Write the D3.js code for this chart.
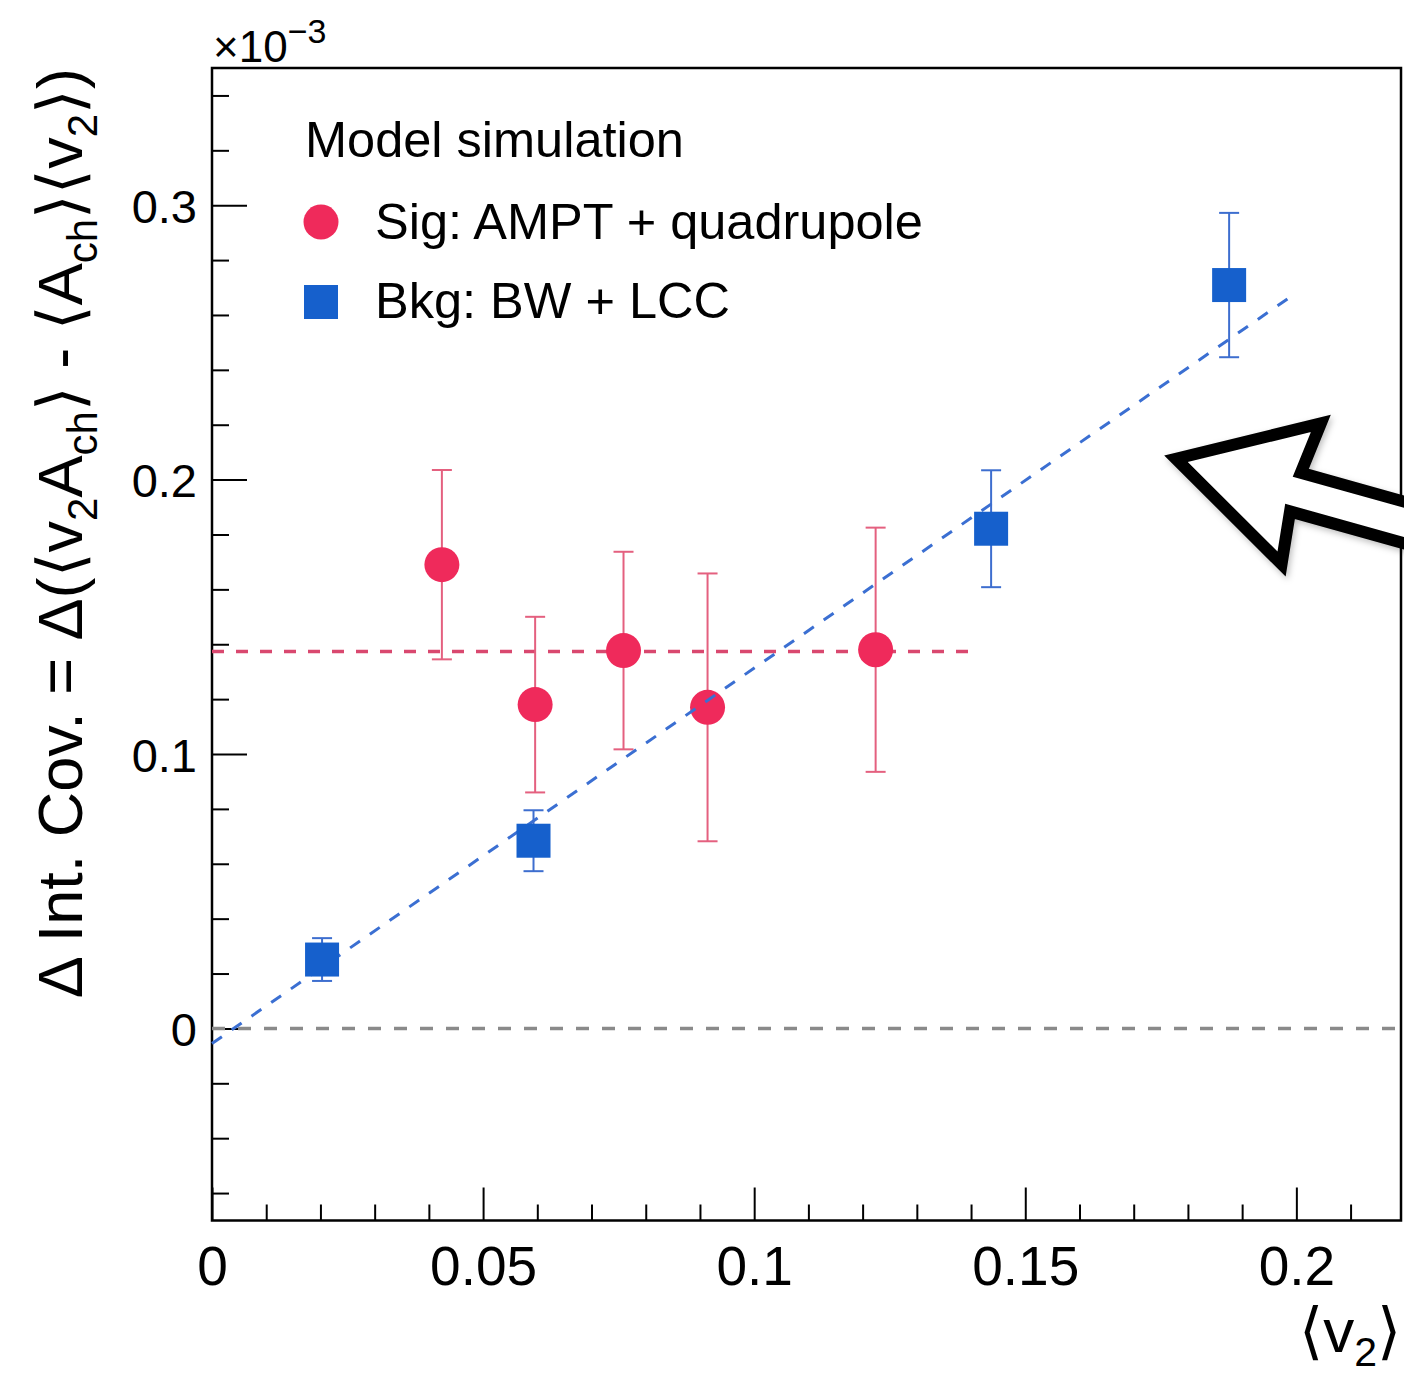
<!DOCTYPE html>
<html>
<head>
<meta charset="utf-8">
<script src="https://cdn.jsdelivr.net/npm/d3@7"></script>
<style>
  html, body { margin: 0; padding: 0; background: #ffffff; }
  svg { display: block; }
  text { font-family: "Liberation Sans", Arial, Helvetica, sans-serif; fill: #000; }
</style>
</head>
<body>
<svg id="chart" width="1404" height="1381"></svg>
<script>
// Signal: AMPT + quadrupole (values in units of 1e-3)
const sigV2  = [0.0424, 0.0596, 0.0759, 0.0914, 0.1224];
const sigCov = [0.169, 0.118, 0.1377, 0.117, 0.138];
const sigErr = [0.0345, 0.032, 0.036, 0.0488, 0.0445];

// Background: blast wave + local charge conservation
const bkgV2  = [0.0203, 0.0593, 0.1437, 0.1876];
const bkgCov = [0.0251, 0.0684, 0.1821, 0.2709];
const bkgErr = [0.0078, 0.0111, 0.0213, 0.0263];

// Fits: constant for signal, straight line for background
const sigFitLevel = 0.1374;
const sigFitRange = [0, 0.14];
const bkgFitIntercept = -0.0055;
const bkgFitSlope = 1.368;
const bkgFitRange = [0, 0.2];

// Axis ranges and tick values
const xDomain = [0, 0.2193];
const yDomain = [-0.07, 0.35];
const xMajorTicks = [0, 0.05, 0.1, 0.15, 0.2];
const xTickLabels = ["0", "0.05", "0.1", "0.15", "0.2"];
const yMajorTicks = [0, 0.1, 0.2, 0.3];
const yTickLabels = ["0", "0.1", "0.2", "0.3"];

const svg = d3.select("#chart");
const L = 212, R = 1401, T = 68, B = 1220.5;

const x = d3.scaleLinear().domain(xDomain).range([L, R]);
const y = d3.scaleLinear().domain(yDomain).range([B, T]);

const RED = "#ef2a5b", RED_ERR = "#e4607f", RED_LINE = "#d9486f";
const BLUE = "#1660cc", BLUE_ERR = "#3d6ecf", BLUE_LINE = "#3b6fd2";

// minor ticks
const xMinor = d3.range(0, 0.2193, 0.01).filter(v => !xMajorTicks.some(m => Math.abs(m - v) < 1e-9));
const yMinor = d3.range(-0.06, 0.351, 0.02).filter(v => !yMajorTicks.some(m => Math.abs(m - v) < 1e-9));

const gxMinor = svg.append("g").attr("transform", `translate(0,${B})`)
  .call(d3.axisBottom(x).tickValues(xMinor).tickSizeInner(-16).tickSizeOuter(0).tickFormat(""));
const gx = svg.append("g").attr("transform", `translate(0,${B})`)
  .call(d3.axisBottom(x).tickValues(xMajorTicks).tickSizeInner(-33).tickSizeOuter(0).tickPadding(25)
    .tickFormat((d, i) => xTickLabels[i]));
const gyMinor = svg.append("g").attr("transform", `translate(${L},0)`)
  .call(d3.axisLeft(y).tickValues(yMinor).tickSizeInner(-17).tickSizeOuter(0).tickFormat(""));
const gy = svg.append("g").attr("transform", `translate(${L},0)`)
  .call(d3.axisLeft(y).tickValues(yMajorTicks).tickSizeInner(-35).tickSizeOuter(0).tickPadding(15)
    .tickFormat((d, i) => yTickLabels[i]));

[gxMinor, gx, gyMinor, gy].forEach(g => {
  g.select(".domain").remove();
  g.selectAll(".tick line").attr("stroke", "#000").attr("stroke-width", 2);
});
gx.selectAll(".tick text").attr("font-size", 55).attr("font-family", "Liberation Sans, Arial, sans-serif").attr("fill", "#000");
gy.selectAll(".tick text").attr("font-size", 47).attr("dy", "0.37em").attr("font-family", "Liberation Sans, Arial, sans-serif").attr("fill", "#000");

// frame
svg.append("rect").attr("x", L).attr("y", T).attr("width", R - L).attr("height", B - T)
  .attr("fill", "none").attr("stroke", "#000").attr("stroke-width", 2.5);

// zero reference
svg.append("line")
  .attr("x1", x(xDomain[0])).attr("x2", x(xDomain[1]))
  .attr("y1", y(0)).attr("y2", y(0))
  .attr("stroke", "#8a8a8a").attr("stroke-width", 3.5).attr("stroke-dasharray", "13,13");

// signal constant fit
svg.append("line")
  .attr("x1", x(sigFitRange[0])).attr("x2", x(sigFitRange[1]))
  .attr("y1", y(sigFitLevel)).attr("y2", y(sigFitLevel))
  .attr("stroke", RED_LINE).attr("stroke-width", 3.5).attr("stroke-dasharray", "12,12");

// error bars helper
function errorBars(xs, ys, es, color) {
  const g = svg.append("g").attr("stroke", color).attr("stroke-width", 2).attr("fill", "none");
  xs.forEach((xv, i) => {
    const px = x(xv), top = y(ys[i] + es[i]), bot = y(ys[i] - es[i]);
    g.append("line").attr("x1", px).attr("x2", px).attr("y1", top).attr("y2", bot);
    g.append("line").attr("x1", px - 10).attr("x2", px + 10).attr("y1", top).attr("y2", top);
    g.append("line").attr("x1", px - 10).attr("x2", px + 10).attr("y1", bot).attr("y2", bot);
  });
}

errorBars(sigV2, sigCov, sigErr, RED_ERR);
svg.append("g").selectAll("circle").data(sigV2).join("circle")
  .attr("cx", d => x(d)).attr("cy", (d, i) => y(sigCov[i])).attr("r", 17.5).attr("fill", RED);

// background linear fit
const bkgLine = d3.line().x(d => x(d)).y(d => y(bkgFitIntercept + bkgFitSlope * d));
svg.append("path").attr("d", bkgLine(bkgFitRange))
  .attr("fill", "none").attr("stroke", BLUE_LINE).attr("stroke-width", 3).attr("stroke-dasharray", "12,12");

errorBars(bkgV2, bkgCov, bkgErr, BLUE_ERR);
const sq = 34;
svg.append("g").selectAll("rect").data(bkgV2).join("rect")
  .attr("x", d => x(d) - sq / 2).attr("y", (d, i) => y(bkgCov[i]) - sq / 2)
  .attr("width", sq).attr("height", sq).attr("fill", BLUE);

// legend
const lg = svg.append("g");
const lfs = 50.5;
lg.append("text").attr("x", 305).attr("y", 157).attr("font-size", lfs).text("Model simulation");
lg.append("circle").attr("cx", 321).attr("cy", 222).attr("r", 17.5).attr("fill", RED);
lg.append("text").attr("x", 375).attr("y", 239).attr("font-size", lfs).text("Sig: AMPT + quadrupole");
lg.append("rect").attr("x", 321 - sq / 2).attr("y", 302 - sq / 2).attr("width", sq).attr("height", sq).attr("fill", BLUE);
lg.append("text").attr("x", 375).attr("y", 318).attr("font-size", lfs).text("Bkg: BW + LCC");

// exponent label
const ex = svg.append("text").attr("x", 213).attr("y", 62).attr("font-size", 44);
ex.append("tspan").text("\u00d710");
ex.append("tspan").attr("font-size", 34).attr("dy", -19).text("\u22123");

// y title
const yt = svg.append("text").attr("transform", `translate(82,${T}) rotate(-90)`)
  .attr("text-anchor", "end").attr("font-size", 63);
function sub(t, txt) { t.append("tspan").attr("font-size", 42).attr("dy", 15).text(txt); }
function back(t, txt) { t.append("tspan").attr("dy", -15).text(txt); }
yt.append("tspan").text("\u0394 Int. Cov. = \u0394(\u27e8v");
sub(yt, "2"); back(yt, "A"); sub(yt, "ch");
back(yt, "\u27e9 - \u27e8A"); sub(yt, "ch");
back(yt, "\u27e9\u27e8v"); sub(yt, "2"); back(yt, "\u27e9)");

// x title
const xt = svg.append("text").attr("x", 1401).attr("y", 1352).attr("text-anchor", "end").attr("font-size", 62);
xt.append("tspan").text("\u27e8v");
xt.append("tspan").attr("font-size", 41).attr("dy", 14).text("2");
xt.append("tspan").attr("dy", -14).text("\u27e9");

// annotation arrow, anchored at a point in data coordinates
const tip = [x(0.1778), y(0.2076)];
const ang = 15.6 * Math.PI / 180;
const local = [[0, 0], [130, -73], [124, -20], [420, -20], [420, 20], [124, 20], [130, 73]];
const pts = local.map(([u, w]) => [
  tip[0] + u * Math.cos(ang) - w * Math.sin(ang),
  tip[1] + u * Math.sin(ang) + w * Math.cos(ang)
]);
const defs = svg.append("defs");
const f = defs.append("filter").attr("id", "soft").attr("x", "-20%").attr("y", "-20%").attr("width", "140%").attr("height", "140%");
f.append("feDropShadow").attr("dx", 2).attr("dy", 3).attr("stdDeviation", 3).attr("flood-color", "#000").attr("flood-opacity", 0.25);
svg.append("path").attr("d", d3.line()(pts) + "Z")
  .attr("fill", "#fff").attr("stroke", "#000").attr("stroke-width", 12)
  .attr("stroke-linejoin", "miter").attr("stroke-miterlimit", 10).attr("filter", "url(#soft)");
</script>
</body>
</html>
